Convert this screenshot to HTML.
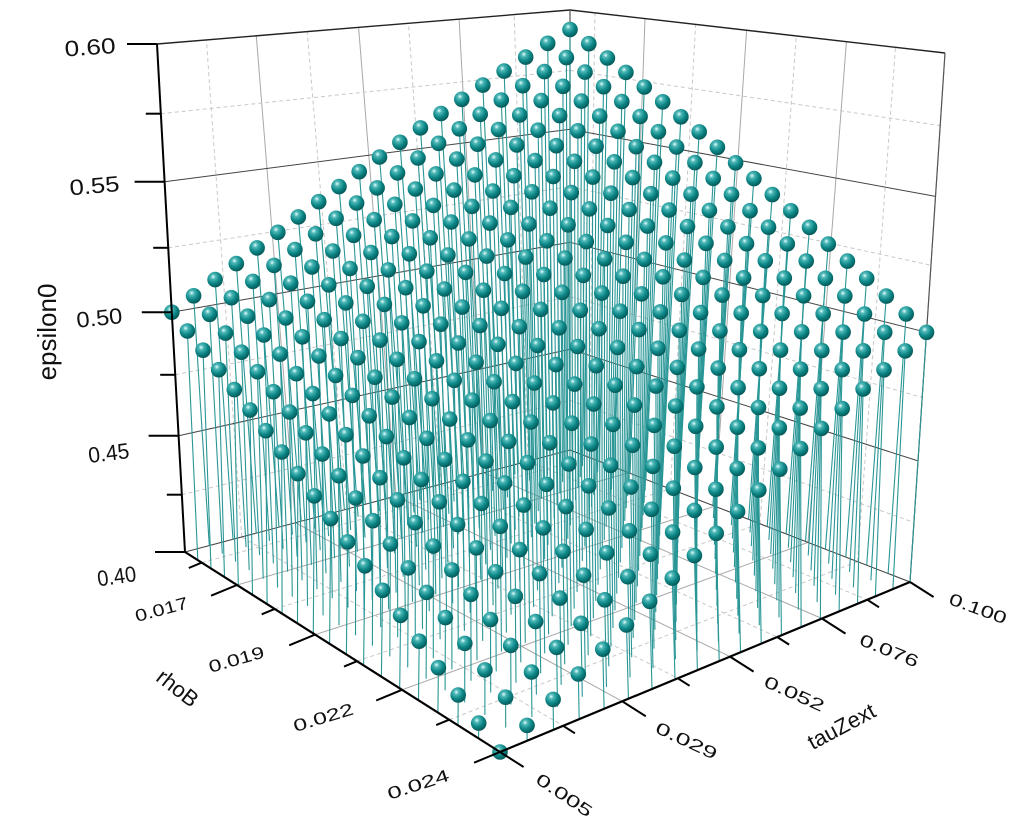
<!DOCTYPE html>
<html><head><meta charset="utf-8">
<style>
html,body{margin:0;padding:0;background:#fff;}
svg{display:block;}
text{font-family:"Liberation Sans",Arial,sans-serif;fill:#111;}
</style></head>
<body>
<svg id="s" width="1024" height="823" viewBox="0 0 1024 823" xmlns="http://www.w3.org/2000/svg">
<defs>
<radialGradient id="ball" cx="0.38" cy="0.32" r="0.7">
<stop offset="0" stop-color="#eaffff"/>
<stop offset="0.22" stop-color="#4fb8b8"/>
<stop offset="0.6" stop-color="#0d8787"/>
<stop offset="1" stop-color="#045656"/>
</radialGradient>
</defs>
<g id="grid"></g>
<g id="pts"></g>
<g id="axes"></g>
<g id="labels">
<text transform="translate(116,53) rotate(-4)" font-size="22" text-anchor="end" textLength="51" lengthAdjust="spacingAndGlyphs">0.60</text>
<text transform="translate(120,191) rotate(-5)" font-size="22" text-anchor="end" textLength="50" lengthAdjust="spacingAndGlyphs">0.55</text>
<text transform="translate(123,323) rotate(-6)" font-size="22" text-anchor="end" textLength="46" lengthAdjust="spacingAndGlyphs">0.50</text>
<text transform="translate(130,458) rotate(-7)" font-size="22" text-anchor="end" textLength="41" lengthAdjust="spacingAndGlyphs">0.45</text>
<text transform="translate(137,581) rotate(-8)" font-size="22" text-anchor="end" textLength="39" lengthAdjust="spacingAndGlyphs">0.40</text>
<text transform="translate(56,332) rotate(-90)" font-size="26" text-anchor="middle">epsilon0</text>

<text transform="translate(163,615) rotate(-15)" font-size="17" text-anchor="middle" textLength="54" lengthAdjust="spacingAndGlyphs">0.017</text>
<text transform="translate(238,665) rotate(-16)" font-size="17" text-anchor="middle" textLength="57" lengthAdjust="spacingAndGlyphs">0.019</text>
<text transform="translate(325,723) rotate(-17)" font-size="17" text-anchor="middle" textLength="62" lengthAdjust="spacingAndGlyphs">0.022</text>
<text transform="translate(420,790) rotate(-18)" font-size="17" text-anchor="middle" textLength="64" lengthAdjust="spacingAndGlyphs">0.024</text>
<text transform="translate(173,694) rotate(38)" font-size="22" text-anchor="middle">rhoB</text>

<text transform="translate(561,800) rotate(34)" font-size="17" text-anchor="middle" textLength="64" lengthAdjust="spacingAndGlyphs">0.005</text>
<text transform="translate(684,746) rotate(25)" font-size="17" text-anchor="middle" textLength="66" lengthAdjust="spacingAndGlyphs">0.029</text>
<text transform="translate(792,699) rotate(24)" font-size="17" text-anchor="middle" textLength="64" lengthAdjust="spacingAndGlyphs">0.052</text>
<text transform="translate(887,656) rotate(22)" font-size="17" text-anchor="middle" textLength="62" lengthAdjust="spacingAndGlyphs">0.076</text>
<text transform="translate(976,614) rotate(20)" font-size="17" text-anchor="middle" textLength="60" lengthAdjust="spacingAndGlyphs">0.100</text>
<text transform="translate(845,733) rotate(-28)" font-size="22" text-anchor="middle">tauZext</text>
</g>
</svg>
<script>
(function(){
var NS="http://www.w3.org/2000/svg";
function H(p0,p1,p2,p3){
 var x0=p0[0],y0=p0[1],x1=p1[0],y1=p1[1],x2=p2[0],y2=p2[1],x3=p3[0],y3=p3[1];
 var sx=x0-x1+x2-x3, sy=y0-y1+y2-y3;
 var dx1=x1-x2,dx2=x3-x2,dy1=y1-y2,dy2=y3-y2;
 var den=dx1*dy2-dx2*dy1;
 var g=(sx*dy2-dx2*sy)/den, h=(dx1*sy-sx*dy1)/den;
 var a=x1-x0+g*x1,b=x3-x0+h*x3,c=x0,d=y1-y0+g*y1,e=y3-y0+h*y3,f=y0;
 return function(u,v){var w=g*u+h*v+1;return [(a*u+b*v+c)/w,(d*u+e*v+f)/w];};
}
var L=[185,552],F=[500,752],R=[910,582],B=[570,450];
var Lt=[157,44],Ft=[500,86],Rt=[945,53],Bt=[570,10];
var Hf=H(L,F,R,B), Ht=H(Lt,Ft,Rt,Bt);
function fz(t){return 0.888*t+0.112*t*t;}
function P(s,r,t){var a=Hf(s,r),b=Ht(s,r),k=fz(t);return [a[0]+k*(b[0]-a[0]),a[1]+k*(b[1]-a[1])];}
function inv(fn,target){var lo=0,hi=1;for(var i=0;i<50;i++){var m=(lo+hi)/2;if(fn(m)<target)lo=m;else hi=m;}return (lo+hi)/2;}
function el(parent,tag,attrs){var e=document.createElementNS(NS,tag);for(var k in attrs)e.setAttribute(k,attrs[k]);parent.appendChild(e);return e;}
function line(g,p,q,st,w,dash){var a={x1:p[0].toFixed(1),y1:p[1].toFixed(1),x2:q[0].toFixed(1),y2:q[1].toFixed(1),stroke:st,"stroke-width":w};if(dash)a["stroke-dasharray"]=dash;return el(g,"line",a);}
var sMaj=[0.165,0.413,0.689,1.0].map(function(f){return inv(function(s){return Hf(s,0)[0];},L[0]+f*(F[0]-L[0]));});
var rMaj=[0,0.298,0.561,0.785,1.0].map(function(f){return inv(function(r){return Hf(1,r)[0];},F[0]+f*(R[0]-F[0]));});
var sMin=[sMaj[0]-(sMaj[1]-sMaj[0])/2];for(var i=0;i<sMaj.length-1;i++)sMin.push((sMaj[i]+sMaj[i+1])/2);
var rMin=[];for(var i=0;i<rMaj.length-1;i++)rMin.push((rMaj[i]+rMaj[i+1])/2);
var zMaj=[0,0.25,0.5,0.75,1],zMin=[0.125,0.375,0.625,0.875];
var G=document.getElementById("grid");
var gs="#a8a8a8",gd="#c8c8c8",DA="4,3";
sMaj.forEach(function(s){line(G,P(s,0,0),P(s,1,0),gs,1);});
sMin.forEach(function(s){line(G,P(s,0,0),P(s,1,0),gd,1,DA);});
rMaj.forEach(function(r){line(G,P(0,r,0),P(1,r,0),gs,1);});
rMin.forEach(function(r){line(G,P(0,r,0),P(1,r,0),gd,1,DA);});
rMaj.forEach(function(r){line(G,P(0,r,0),P(0,r,1),gs,1);});
rMin.forEach(function(r){line(G,P(0,r,0),P(0,r,1),gd,1,DA);});
zMaj.forEach(function(t){line(G,P(0,0,t),P(0,1,t),t==1?"#222":"#444",t==1?1.4:1);});
zMin.forEach(function(t){line(G,P(0,0,t),P(0,1,t),gd,1,DA);});
sMaj.forEach(function(s){line(G,P(s,1,0),P(s,1,1),gs,1);});
sMin.forEach(function(s){line(G,P(s,1,0),P(s,1,1),gd,1,DA);});
zMaj.forEach(function(t){line(G,P(0,1,t),P(1,1,t),t==1?"#222":"#444",t==1?1.4:1);});
zMin.forEach(function(t){line(G,P(0,1,t),P(1,1,t),gd,1,DA);});
line(G,P(0,1,0),P(0,1,1),"#555",1.2);
line(G,P(1,1,0),P(1,1,1),"#555",1.2);
var N=20,pts=[];
for(var i=0;i<N;i++)for(var j=0;j<N;j++){
 var s=i/(N-1),r=j/(N-1);
 var u=1-s;
 var v=0.4+0.1*u+0.1*r-0.008*u*r;
 pts.push({s:s,r:r,t:(v-0.4)/0.2});
}
pts.sort(function(a,b){return (a.s-a.r)-(b.s-b.r);});
var PG=document.getElementById("pts");
pts.forEach(function(p){
 var top=P(p.s,p.r,p.t),bot=P(p.s,p.r,0);
 line(PG,top,bot,"#2a9696",1.1);
 el(PG,"circle",{cx:top[0].toFixed(1),cy:top[1].toFixed(1),r:7.8,fill:"url(#ball)"});
});
var A=document.getElementById("axes");
line(A,P(0,0,0),P(0,0,1),"#000",2);
line(A,P(0,0,0),P(1,0,0),"#000",2.2);
line(A,P(1,0,0),P(1,1,0),"#000",2.2);
zMaj.forEach(function(t){var p=P(0,0,t);line(A,p,[p[0]-30,p[1]],"#000",2);});
zMin.forEach(function(t){var p=P(0,0,t);line(A,p,[p[0]-15,p[1]],"#000",2);});
var dR=[F[0]-R[0],F[1]-R[1]],lr=Math.hypot(dR[0],dR[1]);dR=[dR[0]/lr,dR[1]/lr];
sMaj.forEach(function(s){var p=P(s,0,0);line(A,p,[p[0]+dR[0]*28,p[1]+dR[1]*28],"#000",2);});
sMin.forEach(function(s){var p=P(s,0,0);line(A,p,[p[0]+dR[0]*14,p[1]+dR[1]*14],"#000",2);});
var dL=[F[0]-L[0],F[1]-L[1]],ll=Math.hypot(dL[0],dL[1]);dL=[dL[0]/ll,dL[1]/ll];
rMaj.forEach(function(r){var p=P(1,r,0);line(A,p,[p[0]+dL[0]*28,p[1]+dL[1]*28],"#000",2);});
rMin.forEach(function(r){var p=P(1,r,0);line(A,p,[p[0]+dL[0]*14,p[1]+dL[1]*14],"#000",2);});
})();
</script>
</body></html>
